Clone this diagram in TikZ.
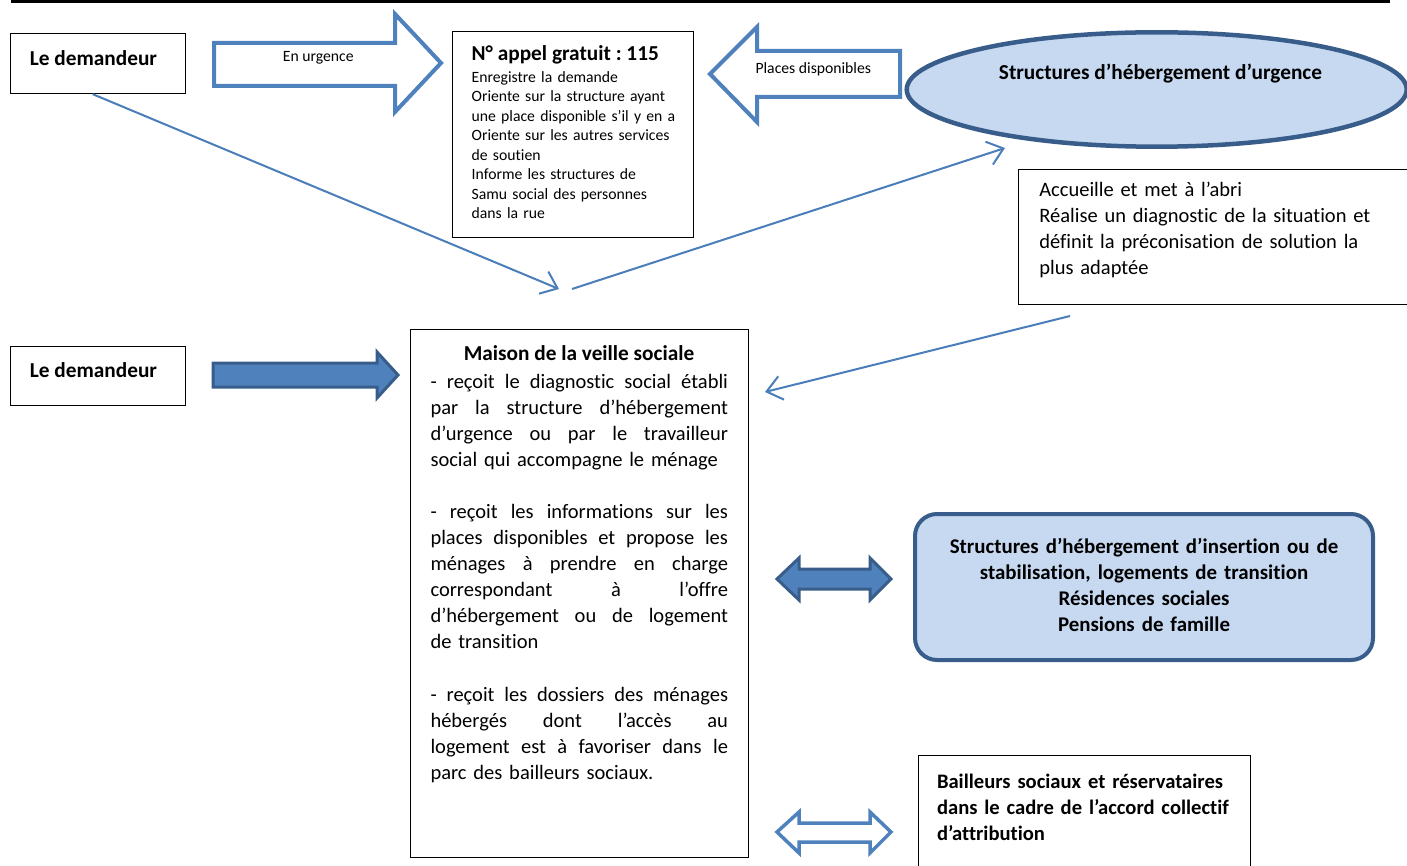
\documentclass[tikz,border=0pt]{standalone}
\usepackage{fontspec}
\setmainfont{Carlito}[Ligatures=CommonOff]
\usetikzlibrary{arrows.meta,shapes.geometric,calc}

\definecolor{accent}{HTML}{4F81BD}
\definecolor{accentdark}{HTML}{385D8A}
\definecolor{accentlight}{HTML}{C6D9F1}
\definecolor{linkblue}{HTML}{4A7EBB}

\newcommand{\bigtext}{\fontsize{21.3}{26}\selectfont}
\newcommand{\bodytext}{\fontsize{20.5}{26}\selectfont}
\newcommand{\smalltext}{\fontsize{15.7}{19.5}\selectfont}
% one fully justified line of the Maison text: word gaps share the spare room
\newcommand{\jline}[1]{\leavevmode\hbox to 297.5pt{\spaceskip=0.226em plus 1fil\relax #1}}
\frenchspacing
\hyphenpenalty=10000

\begin{document}
\begin{tikzpicture}[x=1pt,y=-1pt,
  plainbox/.style={draw=black, line width=1.2pt, fill=white, inner sep=0pt, anchor=north west},
  txt/.style={inner sep=0pt, outer sep=0pt},
  link/.style={draw=linkblue, line width=2pt, -{Straight Barb[length=15pt,width=24pt]}},
  hollowarrow/.style={draw=accent, line width=4pt, fill=white, line join=miter},
  solidarrow/.style={draw=accentdark, line width=3pt, fill=accent, line join=miter},
  dblhollow/.style={draw=accent, line width=3.5pt, fill=white, line join=miter},
]
\useasboundingbox (0,0) rectangle (1407,866);
\clip (0,0) rectangle (1407,866);

% header rule
\draw[line width=2.7pt] (11,1.4) -- (1390,1.4);

% ---- boxes ----
\node[plainbox, minimum width=175, minimum height=60] (dem1) at (10,33) {};
\node[txt, anchor=base, font=\bigtext\bfseries] (dem1t) at (93.5,65.5) {Le demandeur};

\node[plainbox, minimum width=175, minimum height=59] (dem2) at (10,346) {};
\node[txt, anchor=base, font=\bigtext\bfseries] (dem2t) at (93.5,377.5) {Le demandeur};

\node[plainbox, minimum width=241, minimum height=206] (appel) at (452,31) {};
\node[txt, anchor=base west, font=\bigtext\bfseries] (appelt) at (471.7,61) {N° appel gratuit : 115};
\node[txt, anchor=north west, text width=215, align=left, font=\smalltext] (appelb) at (471.7,68.55)
  {\strut Enregistre la demande\\
   Oriente sur la structure ayant\\
   une place disponible s’il y en a\\
   Oriente sur les autres services\\
   de soutien\\
   Informe les structures de\\
   Samu social des personnes\\
   dans la rue};

\node[ellipse, draw=accentdark, line width=4.5pt, fill=accentlight,
      minimum width=500, minimum height=114.4, inner sep=0pt] (urgence) at (1156.7,89.5) {};
\node[txt, anchor=base, font=\bigtext\bfseries] (urgencet) at (1160.5,80) {Structures d’hébergement d’urgence};

\node[plainbox, minimum width=400, minimum height=135] (abri) at (1018,169) {};
\node[txt, anchor=north west, text width=360, align=left, font=\bodytext] (abrit) at (1039.3,178.8)
  {\strut Accueille et met à l’abri\\
   Réalise un diagnostic de la situation et\\
   définit la préconisation de solution la\\
   plus adaptée};

\node[plainbox, minimum width=338, minimum height=528] (maison) at (410,329) {};
\node[txt, anchor=base, font=\bigtext\bfseries] (maisont) at (579,360) {Maison de la veille sociale};
\node[txt, anchor=north west, text width=310, align=left, font=\bodytext] (maisonb) at (430.5,369.8)
  {\strut\jline{- reçoit le diagnostic social établi}\\
   \jline{par la structure d’hébergement}\\
   \jline{d’urgence ou par le travailleur}\\
   social qui accompagne le ménage\\[26.5pt]
   \jline{- reçoit les informations sur les}\\
   \jline{places disponibles et propose les}\\
   \jline{ménages à prendre en charge}\\
   \jline{correspondant à l’offre}\\
   \jline{d’hébergement ou de logement}\\
   de transition\\[26.5pt]
   \jline{- reçoit les dossiers des ménages}\\
   \jline{hébergés dont l’accès au}\\
   \jline{logement est à favoriser dans le}\\
   parc des bailleurs sociaux.};

\node[draw=accentdark, line width=4pt, fill=accentlight, rounded corners=22pt,
      minimum width=458, minimum height=146, inner sep=0pt,
      text width=440, align=center, font=\fontsize{20.9}{26}\selectfont\bfseries] (insertion) at (1144,587)
  {\strut Structures d’hébergement d’insertion ou de\\
   stabilisation, logements de transition\\
   Résidences sociales\\
   Pensions de famille\strut};

\node[plainbox, minimum width=332, minimum height=130] (bailleurs) at (917.5,755) {};
\node[txt, anchor=north west, text width=320, align=left, font=\fontsize{20.6}{26}\selectfont\bfseries] (bailleurst) at (937,770.1)
  {\strut Bailleurs sociaux et réservataires\\
   dans le cadre de l’accord collectif\\
   d’attribution};

% ---- block arrows ----
\draw[hollowarrow] (214,43) -- (395,43) -- (395,14) -- (441,63) -- (395,112) -- (395,86) -- (214,86) -- cycle;
\node[txt, anchor=base, font=\smalltext] (urgencelbl) at (318.3,61.7) {En urgence};

\draw[hollowarrow] (900,51) -- (757,51) -- (757,27) -- (710,74) -- (757,122) -- (757,97) -- (900,97) -- cycle;
\node[txt, anchor=base, font=\smalltext] (placeslbl) at (813.3,74) {Places disponibles};

\draw[solidarrow] (213,363) -- (377,363) -- (377,352) -- (398,375) -- (377,398) -- (377,387) -- (213,387) -- cycle;

\draw[solidarrow] (777,579) -- (799,558) -- (799,569) -- (870,569) -- (870,558) -- (891,579)
  -- (870,600) -- (870,589) -- (799,589) -- (799,600) -- cycle;

\draw[dblhollow] (777,832) -- (799,812) -- (799,823) -- (870,823) -- (870,812) -- (891,832)
  -- (870,853) -- (870,842) -- (799,842) -- (799,853) -- cycle;

% ---- thin connectors ----
\coordinate (demout) at ($(dem1.south west)!0.47!(dem1.south east)$);
\coordinate (callin) at (559,289);
\coordinate (callout) at (572,289);
\coordinate (urgin) at (1005,148);
\coordinate (abriout) at (1070,316);
\coordinate (maisonin) at (765,392);
\draw[link] (demout) -- (callin);
\draw[link] (callout) -- (urgin);
\draw[link] (abriout) -- (maisonin);
\end{tikzpicture}
\end{document}
